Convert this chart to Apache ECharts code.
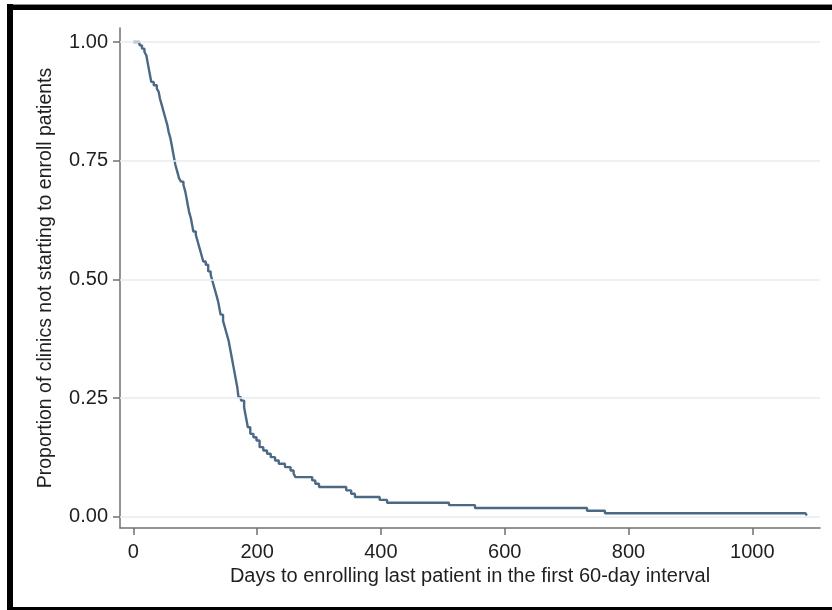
<!DOCTYPE html>
<html>
<head>
<meta charset="utf-8">
<script src="https://cdn.jsdelivr.net/npm/echarts@6/dist/echarts.min.js"></script>
<style>
  html, body { margin: 0; padding: 0; background: #fff; }
  #chart { width: 832px; height: 610px; }
</style>
</head>
<body>
<div id="chart"></div>
<script>
// Kaplan-Meier style curve: day of each drop and the proportion remaining after it
const days = [0, 10, 14, 18, 21, 23, 25, 27, 29, 33, 38, 41, 43, 46, 49, 52, 55, 57, 60, 62,
  64, 66, 68, 71, 74, 77, 81, 84, 86, 88, 90, 93, 95, 97, 101, 104, 107, 110, 113, 117,
  121, 125, 128, 131, 134, 137, 139, 141, 145, 148, 151, 154, 156, 158, 160, 162, 164, 166, 168, 170,
  174, 179, 181, 183, 185, 189, 194, 199, 204, 210, 216, 222, 229, 235, 245, 254, 259, 262, 289, 294,
  300, 344, 352, 358, 398, 410, 510, 552, 733, 762, 1086, 1088];
const proportion = [1.000, 0.993, 0.986, 0.979, 0.972, 0.958, 0.944, 0.930, 0.916, 0.909, 0.902, 0.895, 0.881, 0.867, 0.853, 0.839, 0.825, 0.811, 0.797, 0.783,
  0.769, 0.755, 0.741, 0.727, 0.713, 0.706, 0.699, 0.685, 0.671, 0.657, 0.643, 0.629, 0.615, 0.601, 0.594, 0.580, 0.566, 0.552, 0.538, 0.531,
  0.517, 0.510, 0.496, 0.482, 0.468, 0.454, 0.440, 0.426, 0.413, 0.399, 0.385, 0.371, 0.357, 0.343, 0.329, 0.315, 0.301, 0.287, 0.273, 0.252,
  0.245, 0.231, 0.217, 0.203, 0.189, 0.175, 0.168, 0.161, 0.147, 0.140, 0.133, 0.126, 0.119, 0.112, 0.105, 0.098, 0.091, 0.084, 0.077, 0.070,
  0.063, 0.056, 0.049, 0.042, 0.036, 0.030, 0.025, 0.019, 0.013, 0.008, 0.008, 0.003];

const xTicks = [0, 200, 400, 600, 800, 1000];
const yTicks = [0, 0.25, 0.50, 0.75, 1.00];

const xTitle = 'Days to enrolling last patient in the first 60-day interval';
const yTitle = 'Proportion of clinics not starting to enroll patients';

const FONT = "'Liberation Sans', Arial, Helvetica, sans-serif";
const TEXT = '#1f1f1f';
const AXIS = '#707070';

const chart = echarts.init(document.getElementById('chart'), null, { renderer: 'canvas' });

chart.setOption({
  animation: false,
  backgroundColor: '#ffffff',
  grid: { left: 120, right: 12, top: 28, bottom: 82, containLabel: false },
  xAxis: {
    type: 'value',
    min: -21.5,
    max: 1109.4,
    name: xTitle,
    nameLocation: 'middle',
    nameGap: 36,
    nameTextStyle: { color: TEXT, fontFamily: FONT, fontSize: 20 },
    axisLine: { show: true, onZero: false, lineStyle: { color: AXIS, width: 1.5 } },
    axisTick: { show: true, length: 7, customValues: xTicks, lineStyle: { color: AXIS, width: 1.5 } },
    axisLabel: {
      customValues: xTicks, margin: 14, color: TEXT, fontFamily: FONT, fontSize: 20,
      formatter: v => String(v)
    },
    splitLine: { show: false }
  },
  yAxis: {
    type: 'value',
    min: -0.0232,
    max: 1.0295,
    name: yTitle,
    nameLocation: 'middle',
    nameGap: 64,
    nameRotate: 90,
    nameTextStyle: { color: TEXT, fontFamily: FONT, fontSize: 19.5 },
    axisLine: { show: true, onZero: false, lineStyle: { color: AXIS, width: 1.5 } },
    axisTick: { show: true, length: 7, customValues: yTicks, lineStyle: { color: AXIS, width: 1.5 } },
    axisLabel: {
      customValues: yTicks, margin: 12, color: TEXT, fontFamily: FONT, fontSize: 20,
      formatter: v => v.toFixed(2)
    },
    splitLine: { show: false }
  },
  graphic: [
    { type: 'rect', shape: { x: 7, y: 4, width: 825, height: 1 }, style: { fill: '#8c8c8c' } },
    { type: 'rect', shape: { x: 7, y: 5, width: 825, height: 5 }, style: { fill: '#000' } },
    { type: 'rect', shape: { x: 7, y: 4, width: 6, height: 606 }, style: { fill: '#000' } },
    { type: 'rect', shape: { x: 7, y: 607, width: 825, height: 3 }, style: { fill: '#000' } }
  ],
  series: [
    {
      // horizontal reference lines at each labelled proportion
      type: 'line',
      data: [],
      z: 1,
      silent: true,
      markLine: {
        silent: true,
        symbol: 'none',
        label: { show: false },
        lineStyle: { color: '#e7edf1', width: 1.5, type: 'solid' },
        data: yTicks.map(v => ({ yAxis: v }))
      }
    },
    {
      type: 'line',
      step: 'end',
      z: 3,
      showSymbol: false,
      symbol: 'none',
      lineStyle: { color: '#4b6884', width: 2.4 },
      data: days.map((d, i) => [d, proportion[i]])
    }
  ]
});
</script>
</body>
</html>
